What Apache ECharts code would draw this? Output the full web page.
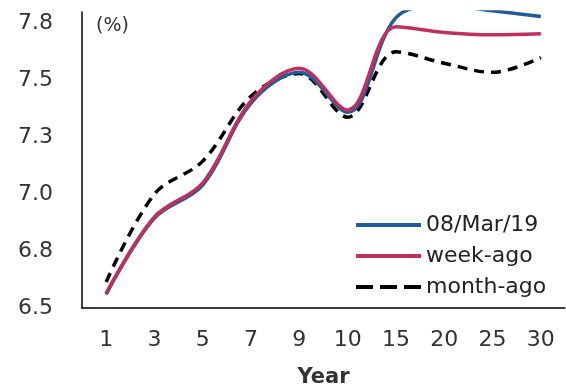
<!DOCTYPE html>
<html><head><meta charset="utf-8">
<script src="https://cdn.jsdelivr.net/npm/echarts@6/dist/echarts.min.js"></script>
<style>html,body{margin:0;padding:0;background:#fff}#c{width:566px;height:392px}</style>
</head><body><div id="c"></div>
<script>
var categories = ['1','3','5','7','9','10','15','20','25','30'];
var current = [6.56, 6.895, 7.04, 7.40, 7.535, 7.36, 7.775, 7.83, 7.805, 7.78];
var weekAgo = [6.565, 6.90, 7.05, 7.41, 7.553, 7.37, 7.735, 7.71, 7.70, 7.705];
var monthAgo = [6.614, 7.00, 7.145, 7.43, 7.53, 7.338, 7.625, 7.575, 7.535, 7.60];
var seriesNames = ['08/Mar/19', 'week-ago', 'month-ago'];
var yMin = 6.5, yMax = 7.8, yStep = 0.25;

var FONT = 'DejaVu Sans';
var SMOOTH = 0.35;
var chart = echarts.init(document.getElementById('c'), null, {renderer: 'canvas'});
chart.setOption({
  animation: false,
  backgroundColor: '#fff',
  grid: {left: 82, right: 1, top: 12, bottom: 84, outerBoundsMode: 'none', containLabel: false},
  graphic: [{type: 'text', left: 96, top: 17, style: {text: '(%)', font: '19px ' + FONT, fill: '#333'}}],
  legend: {
    orient: 'vertical', left: 354, top: 214, padding: 0, itemWidth: 65, itemHeight: 14, itemGap: 9,
    itemStyle: {opacity: 0},
    data: [
      {name: seriesNames[0], lineStyle: {width: 4}},
      {name: seriesNames[1], lineStyle: {width: 4}},
      {name: seriesNames[2], lineStyle: {width: 4, type: [17, 7]}}
    ],
    textStyle: {fontFamily: FONT, fontSize: 22, color: '#222'}
  },
  xAxis: {
    type: 'category', data: categories, boundaryGap: true,
    axisLine: {lineStyle: {color: '#000', width: 1.5}},
    axisTick: {show: false},
    axisLabel: {fontFamily: FONT, fontSize: 22, color: '#333', margin: 21},
    name: 'Year', nameLocation: 'middle', nameGap: 59,
    nameTextStyle: {fontFamily: FONT, fontSize: 21, fontWeight: 'bold', color: '#333'}
  },
  yAxis: {
    type: 'value', min: yMin, max: yMax, interval: yStep,
    axisLine: {show: true, lineStyle: {color: '#000', width: 1.5}},
    axisTick: {show: false},
    splitLine: {show: false},
    axisLabel: {fontFamily: FONT, fontSize: 22, color: '#333', margin: 29, showMaxLabel: false,
      formatter: function (v) { return v.toFixed(1); }}
  },
  series: [
    {name: seriesNames[0], type: 'line', data: current, smooth: SMOOTH, symbol: 'none',
     lineStyle: {color: '#1f5c99', width: 3.5}, itemStyle: {color: '#1f5c99'}, z: 3},
    {name: seriesNames[1], type: 'line', data: weekAgo, smooth: SMOOTH, symbol: 'none',
     lineStyle: {color: '#c0305e', width: 3.5}, itemStyle: {color: '#c0305e'}, z: 4},
    {name: seriesNames[2], type: 'line', data: monthAgo, smooth: SMOOTH, symbol: 'none',
     lineStyle: {color: '#000', width: 3.5, type: [10, 7]}, itemStyle: {color: '#000'}, z: 2}
  ]
});
</script></body></html>
